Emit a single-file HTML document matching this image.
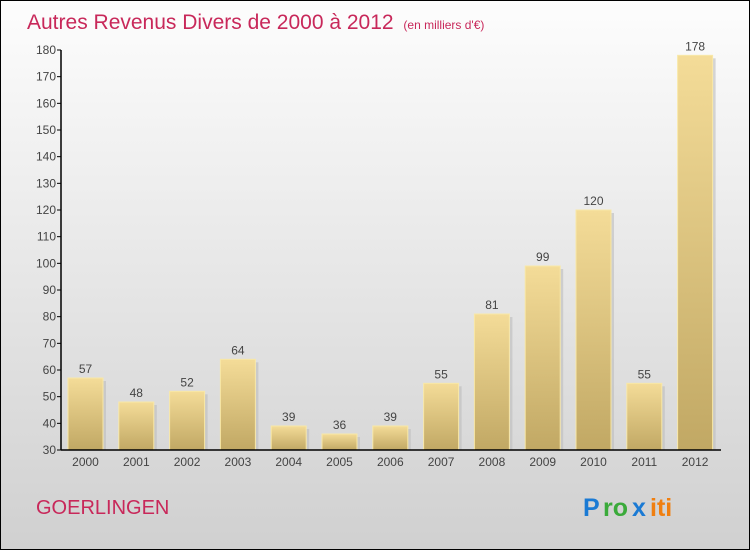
<!DOCTYPE html>
<html><head><meta charset="utf-8"><style>
body{margin:0;width:750px;height:550px;overflow:hidden;font-family:"Liberation Sans",sans-serif}
</style></head><body>
<svg width="750" height="550" xmlns="http://www.w3.org/2000/svg">
<defs>
<linearGradient id="bg" x1="0" y1="0" x2="0" y2="1"><stop offset="0" stop-color="#fdfdfd"/><stop offset="1" stop-color="#d0d0d0"/></linearGradient>
<linearGradient id="bar" x1="0" y1="0" x2="0" y2="1"><stop offset="0" stop-color="#f4dc98"/><stop offset="1" stop-color="#c1a864"/></linearGradient>
</defs>
<rect x="0.5" y="0.5" width="749" height="549" fill="url(#bg)" stroke="#000"/>
<text x="27" y="29" font-size="21" fill="#c8285a">Autres Revenus Divers de 2000 à 2012 <tspan font-size="12" dx="4">(en milliers d'€)</tspan></text>
<g id="bars"></g>
<g id="axes"></g>
<text x="36" y="514" font-size="20" fill="#c8285a">GOERLINGEN</text>
<g font-size="25" font-weight="bold">
<text x="583" y="516" fill="#1a7ad4">P</text><text x="603" y="516" fill="#3aaa3a">ro</text><text x="632" y="516" fill="#1a7ad4">x</text><text x="650" y="516" fill="#f07f10">iti</text>
</g>
</svg>
<script>
const years=["2000","2001","2002","2003","2004","2005","2006","2007","2008","2009","2010","2011","2012"];
const values=[57,48,52,64,39,36,39,55,81,99,120,55,178];
const yTicks=[30,40,50,60,70,80,90,100,110,120,130,140,150,160,170,180];
const NS="http://www.w3.org/2000/svg";
const y0=450,yTop=50,vMin=30,vMax=180;
function ys(v){return y0-(v-vMin)/(vMax-vMin)*(y0-yTop);}
function xs(i){return 68+i*50.8;}
const bw=35;
const bars=document.getElementById('bars'),axes=document.getElementById('axes');
function mk(tag,attrs,parent,text){const e=document.createElementNS(NS,tag);for(const k in attrs)e.setAttribute(k,attrs[k]);if(text!==undefined)e.textContent=text;parent.appendChild(e);return e;}
values.forEach((v,i)=>{
 const x=xs(i),y=ys(v);
 const sh=mk('rect',{x:x+3,y:y+3,width:bw,height:y0-y-3,fill:'#bdbdbd',opacity:0.6},bars);
 
 
 const r=mk('rect',{x:x,y:y,width:bw,height:y0-y,fill:'url(#bar)',stroke:'#f8e8a8','stroke-width':1},bars);
 
 
 const t=mk('text',{x:x+bw/2,y:y-5,'font-size':12,fill:'#444','text-anchor':'middle'},bars,String(v));
 
 
 const xl=mk('text',{x:x+bw/2,y:466,'font-size':12,fill:'#444','text-anchor':'middle'},axes,years[i]);
 
 
});
const ya=mk('line',{x1:61,y1:yTop,x2:61,y2:y0,stroke:'#000','stroke-width':1.5},axes);


const xa=mk('line',{x1:61,y1:y0,x2:721,y2:y0,stroke:'#000','stroke-width':1.5},axes);


yTicks.forEach(v=>{
 const y=ys(v);
 mk('line',{x1:57,y1:y,x2:61,y2:y,stroke:'#000'},axes);
 const t=mk('text',{x:56,y:y+4,'font-size':12,fill:'#444','text-anchor':'end'},axes,String(v));
 
 
});
</script>
</body></html>
